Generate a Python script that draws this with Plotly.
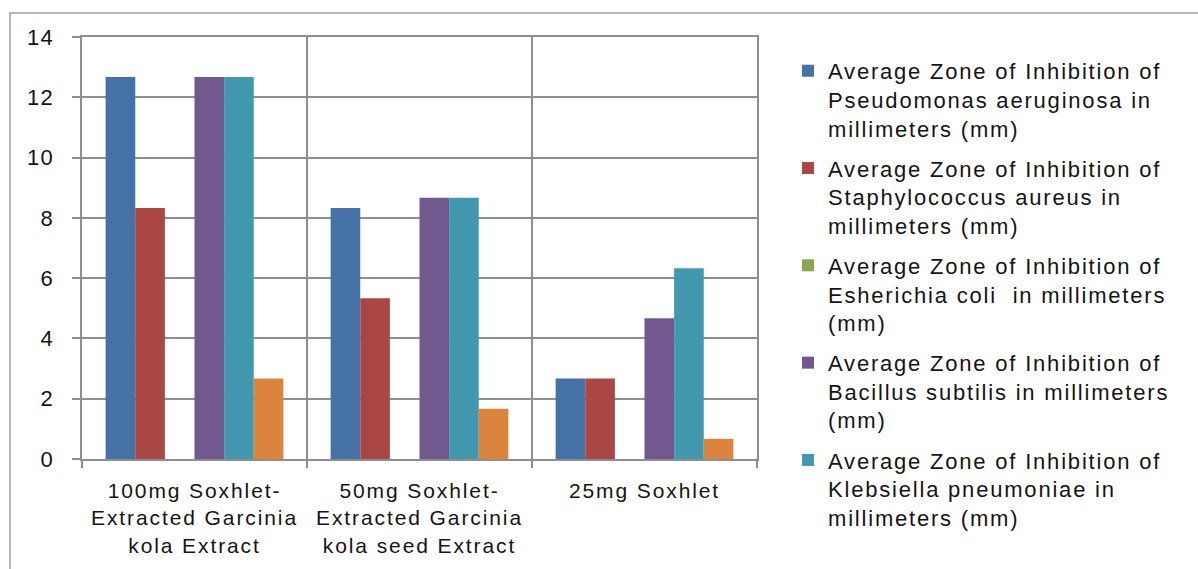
import plotly.graph_objects as go

# Extract treatments (x categories)
categories = [
    "100mg Soxhlet-<br>Extracted Garcinia<br>kola Extract",
    "50mg Soxhlet-<br>Extracted Garcinia<br>kola seed Extract",
    "25mg Soxhlet",
]

# Average zone of inhibition (mm) per organism
pseudomonas = [12.67, 8.33, 2.67]
staphylococcus = [8.33, 5.33, 2.67]
escherichia = [0.0, 0.0, 0.0]
bacillus = [12.67, 8.67, 4.67]
klebsiella = [12.67, 8.67, 6.33]
candida = [2.67, 1.67, 0.67]

series_names = [
    "Average Zone of Inhibition of<br>Pseudomonas aeruginosa in<br>millimeters (mm)",
    "Average Zone of Inhibition of<br>Staphylococcus aureus in<br>millimeters (mm)",
    "Average Zone of Inhibition of<br>Esherichia coli  in millimeters<br>(mm)",
    "Average Zone of Inhibition of<br>Bacillus subtilis in millimeters<br>(mm)",
    "Average Zone of Inhibition of<br>Klebsiella pneumoniae in<br>millimeters (mm)",
    "Average Zone of Inhibition of Candida albicans in millimeters (mm)",
]
series_values = [pseudomonas, staphylococcus, escherichia, bacillus, klebsiella, candida]
series_colors = ["#4572A7", "#AA4643", "#89A54E", "#71588F", "#4198AF", "#DB843D"]
in_legend = [True, True, True, True, True, False]

y_ticks = [0, 2, 4, 6, 8, 10, 12, 14]

W, H = 1198, 569
L, R, T, B = 82, 441, 37, 108
pw, ph = W - L - R, H - T - B


def px_x(x):
    return (x - L) / pw


def px_y(y):
    return (H - B - y) / ph


def spaced(text, px):
    return f'<span style="letter-spacing:{px}px">{text}</span>'


fig = go.Figure()
for i, (name, vals, col, show) in enumerate(zip(series_names, series_values, series_colors, in_legend)):
    fig.add_trace(go.Bar(
        x=categories,
        y=vals,
        name=spaced(name, 1.8),
        marker=dict(color=col, line=dict(width=0)),
        showlegend=show,
        legendgroup=f"g{i}",
    ))

grid_col = "#8e8e8e"
text_col = "#141414"

fig.update_layout(
    width=W,
    height=H,
    margin=dict(l=L, r=R, t=T, b=B, pad=0),
    paper_bgcolor="white",
    plot_bgcolor="white",
    barmode="group",
    bargap=0.21,
    bargroupgap=0,
    font=dict(family="Arial, Liberation Sans, sans-serif", color=text_col, size=21),
    xaxis=dict(
        type="category",
        tickson="boundaries",
        tickvals=categories,
        ticktext=[spaced(c, 1.9) for c in categories],
        showgrid=True,
        gridcolor=grid_col,
        gridwidth=1.5,
        ticks="outside",
        ticklen=7,
        tickcolor=grid_col,
        tickwidth=1.5,
        showline=True,
        linecolor=grid_col,
        linewidth=1.5,
        mirror=True,
        ticklabelstandoff=12,
        tickfont=dict(size=21, color=text_col),
    ),
    yaxis=dict(
        range=[0, 14],
        tickvals=y_ticks,
        ticktext=[spaced(str(v), 1.2) for v in y_ticks],
        showgrid=True,
        gridcolor=grid_col,
        gridwidth=1.5,
        ticks="outside",
        ticklen=8,
        tickcolor=grid_col,
        tickwidth=1.5,
        showline=True,
        linecolor=grid_col,
        linewidth=1.5,
        mirror=True,
        zeroline=False,
        ticklabelstandoff=14,
        tickfont=dict(size=22, color=text_col),
    ),
    legend=dict(
        x=px_x(788),
        y=px_y(50),
        xanchor="left",
        yanchor="top",
        font=dict(size=22, color=text_col),
        valign="top",
        traceorder="grouped",
        tracegroupgap=8.5,
        itemwidth=30,
        maxheight=1000,
        bgcolor="rgba(0,0,0,0)",
    ),
    shapes=[
        dict(
            type="rect",
            xref="paper",
            yref="paper",
            x0=px_x(10),
            x1=px_x(1400),
            y0=px_y(800),
            y1=px_y(13),
            line=dict(color="#b4b4b4", width=2),
            fillcolor="rgba(0,0,0,0)",
            layer="below",
        )
    ],
)

fig.write_html("out.html")
